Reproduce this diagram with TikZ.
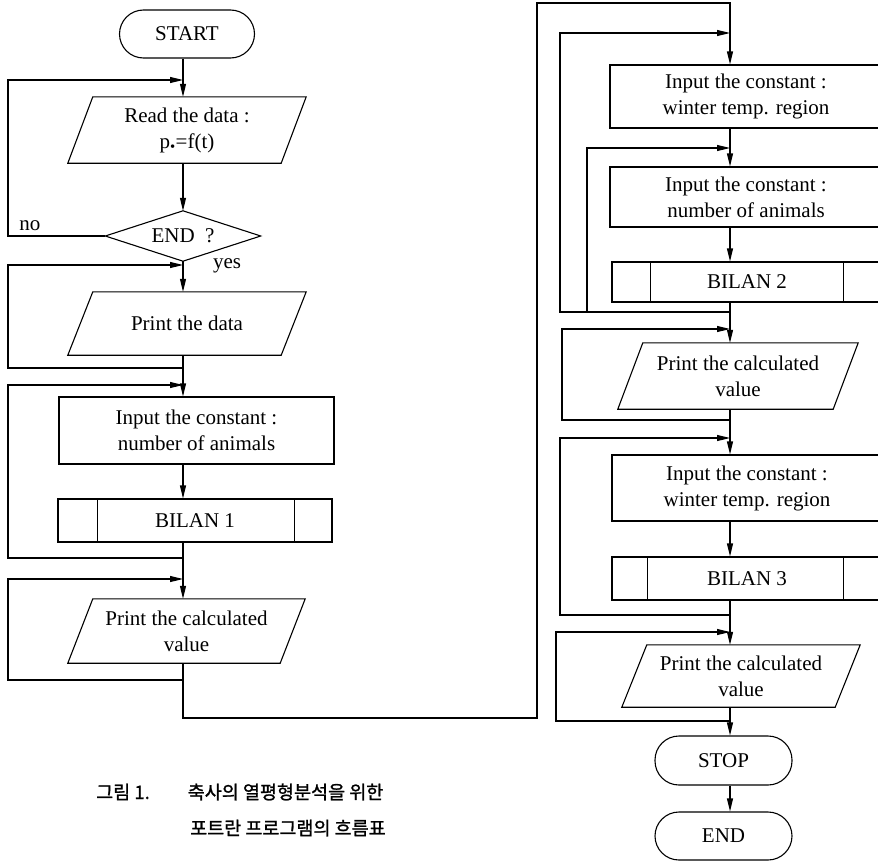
\documentclass[tikz,border=0pt]{standalone}
\usepackage{fontspec}
\setmainfont{Liberation Serif}
\newfontfamily\krfont[FakeBold=1.3]{Noto Sans CJK KR}
\usetikzlibrary{arrows.meta}
\newcommand\drawpara[1]{\draw[ln] ([xshift=25pt]#1.north west) -- (#1.north east) -- ([xshift=-25pt]#1.south east) -- (#1.south west) -- cycle;}
\newcommand\drawsub[3]{\draw[ln] ([xshift=#2]#1.north west) -- ([xshift=#2]#1.south west); \draw[ln] ([xshift=-#3]#1.north east) -- ([xshift=-#3]#1.south east);}
\tikzset{
  ln/.style={line width=1.1pt},
  arr/.style={ln, -{Triangle[length=13pt,width=6pt]}},
  txt/.style={font=\fontsize{21}{26}\selectfont, align=center, inner sep=0pt},
  boxn/.style={txt, draw, ln},
  term/.style={txt, draw, ln, rounded corners=24pt},
  captxt/.style={font=\krfont\fontsize{18.5}{24}\selectfont, inner sep=0pt, anchor=west}
}
\begin{document}
\begin{tikzpicture}[x=1pt,y=-1pt]
\useasboundingbox (0,0) rectangle (878,862);
\clip (0,0) rectangle (878,862);
% columns and loop x positions
\coordinate (L) at (183,0);
\coordinate (R) at (730,0);
\coordinate (xl) at (8,0);
\coordinate (xc) at (537,0);
\coordinate (xr1) at (560,0);
\coordinate (xr2) at (587,0);
\coordinate (xr3) at (562,0);
\coordinate (xr4) at (560,0);
\coordinate (xr5) at (556,0);
% left column nodes
\node[term, minimum width=135pt, minimum height=48pt] (start) at (187,34) {START};
\node[txt, minimum width=238pt, minimum height=66pt] (read) at (187,130) {Read the data :\\p\textsubscript{•}=f(t)};
\drawpara{read}
\node[txt, minimum width=155pt, minimum height=50pt] (dia) at (183,236) {END\ \ ?};
\draw[ln] (dia.north) -- (dia.east) -- (dia.south) -- (dia.west) -- cycle;
\node[txt, minimum width=238pt, minimum height=63pt] (pdata) at (187,323.5) {Print the data};
\drawpara{pdata}
\node[boxn, minimum width=275pt, minimum height=67pt] (inp1) at (196.5,430.5) {Input the constant :\\number of animals};
\node[boxn, minimum width=274pt, minimum height=43pt] (bil1) at (195,520.5) {BILAN 1};
\drawsub{bil1}{40pt}{38pt}
\node[txt, minimum width=237pt, minimum height=64pt] (pc1) at (186.5,631) {Print the calculated\\value};
\drawpara{pc1}
\node[txt] (no) at (30,226) {no};
\node[txt] (yes) at (227,266) {yes};
% right column nodes
\node[boxn, minimum width=272pt, minimum height=63pt] (w1) at (746,96.5) {Input the constant :\\winter temp. region};
\node[boxn, minimum width=272pt, minimum height=60pt] (n2) at (746,197) {Input the constant :\\number of animals};
\node[boxn, minimum width=270pt, minimum height=40pt] (bil2) at (747,282) {BILAN 2};
\drawsub{bil2}{39pt}{39pt}
\node[txt, minimum width=240pt, minimum height=66pt] (pc2) at (738,376) {Print the calculated\\value};
\drawpara{pc2}
\node[boxn, minimum width=270pt, minimum height=66pt] (w3) at (747,488) {Input the constant :\\winter temp. region};
\node[boxn, minimum width=270pt, minimum height=43pt] (bil3) at (747,578.5) {BILAN 3};
\drawsub{bil3}{36pt}{39pt}
\node[txt, minimum width=238pt, minimum height=62pt] (pc3) at (741,676) {Print the calculated\\value};
\drawpara{pc3}
\node[term, minimum width=137pt, minimum height=49pt] (stop) at (723.5,760.5) {STOP};
\node[term, minimum width=137pt, minimum height=48pt] (endn) at (723.5,836) {END};
% caption
\node[captxt] (cap1) at (96,792) {그림 1.\hspace{38pt}축사의 열평형분석을 위한};
\node[captxt] (cap2) at (190,828) {포트란 프로그램의 흐름표};
% junctions
\coordinate (j1) at (183,80);
\coordinate (j2t) at (183,265);
\coordinate (j2b) at (183,368);
\coordinate (j3t) at (183,385);
\coordinate (j3b) at (183,558);
\coordinate (j4t) at (183,579);
\coordinate (j4b) at (183,680);
\coordinate (c1) at (183,718);
\coordinate (top) at (730,3);
\coordinate (jr1t) at (730,33);
\coordinate (jr2t) at (730,148);
\coordinate (jrb) at (730,312);
\coordinate (jr3t) at (730,329);
\coordinate (jr3b) at (730,420);
\coordinate (jr4t) at (730,438);
\coordinate (jr4b) at (730,615);
\coordinate (jr5t) at (730,632);
\coordinate (jr5b) at (730,721);
% left connectors
\draw[arr] (start.south -| L) -- (read.north -| L);
\draw[arr] (read.south -| L) -- (dia.north);
\draw[arr] (dia.south) -- (pdata.north -| L);
\draw[arr] (pdata.south -| L) -- (inp1.north -| L);
\draw[arr] (inp1.south -| L) -- (bil1.north -| L);
\draw[arr] (bil1.south -| L) -- (pc1.north -| L);
\draw[arr] (dia.west) -- (dia.west -| xl) |- (j1);
\draw[arr] (j2b) -- (j2b -| xl) |- (j2t);
\draw[arr] (j3b) -- (j3b -| xl) |- (j3t);
\draw[arr] (j4b) -- (j4b -| xl) |- (j4t);
% link between columns
\draw[arr] (pc1.south -| L) -- (c1) -- (c1 -| xc) |- (top) -- (w1.north -| R);
% right connectors
\draw[arr] (w1.south -| R) -- (n2.north -| R);
\draw[arr] (n2.south -| R) -- (bil2.north -| R);
\draw[arr] (bil2.south -| R) -- (pc2.north -| R);
\draw[arr] (pc2.south -| R) -- (w3.north -| R);
\draw[arr] (w3.south -| R) -- (bil3.north -| R);
\draw[arr] (bil3.south -| R) -- (pc3.north -| R);
\draw[arr] (pc3.south -| R) -- (stop.north -| R);
\draw[arr] (stop.south -| R) -- (endn.north -| R);
\draw[arr] (jrb) -- (jrb -| xr1) |- (jr1t);
\draw[arr] (jrb -| xr2) |- (jr2t);
\draw[arr] (jr3b) -- (jr3b -| xr3) |- (jr3t);
\draw[arr] (jr4b) -- (jr4b -| xr4) |- (jr4t);
\draw[arr] (jr5b) -- (jr5b -| xr5) |- (jr5t);
\end{tikzpicture}
\end{document}
